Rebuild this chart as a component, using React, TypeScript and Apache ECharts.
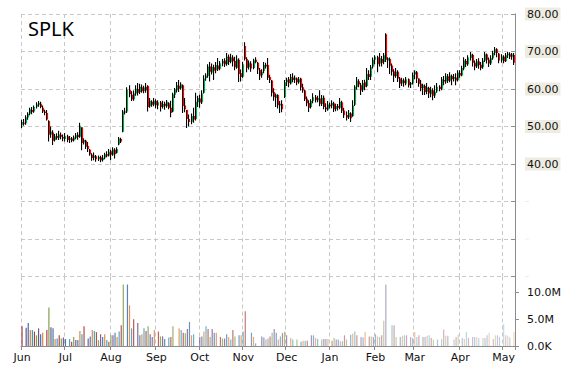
import React, { useEffect, useRef } from 'react';
import * as echarts from 'echarts';

const months = ['Jun', 'Jul', 'Aug', 'Sep', 'Oct', 'Nov', 'Dec', 'Jan', 'Feb', 'Mar', 'Apr', 'May'];
const tradingDays = [21, 22, 22, 21, 21, 21, 21, 22, 19, 22, 21, 6];
const ticker = 'SPLK';

// [open, close, low, high]
const ohlc: number[][] = [
  [50.5, 51.2, 49.6, 51.8], [51.0, 50.8, 50.2, 52.0], [50.9, 52.5, 50.5, 53.0], [52.4, 53.4, 51.8, 53.8],
  [53.5, 54.6, 53.0, 55.0], [54.4, 53.9, 53.3, 55.2], [54.0, 55.2, 53.7, 55.6], [55.3, 55.9, 54.8, 56.5],
  [55.8, 56.3, 55.3, 56.8], [56.1, 55.2, 54.9, 56.6], [55.0, 54.0, 53.6, 55.6], [54.0, 53.6, 53.0, 54.5],
  [53.6, 51.9, 51.6, 54.4], [51.5, 47.8, 46.0, 51.7], [47.9, 48.6, 47.0, 50.0], [48.4, 46.2, 45.1, 49.0],
  [46.4, 47.4, 46.0, 48.0], [47.5, 47.0, 46.5, 48.2], [47.0, 47.9, 46.4, 48.9], [47.8, 47.3, 46.6, 48.4],
  [47.2, 46.8, 46.1, 47.9],
  // Jul
  [46.7, 47.5, 46.0, 48.3], [47.4, 46.4, 45.8, 47.8], [46.5, 46.9, 45.6, 47.5], [46.8, 46.2, 45.8, 47.2],
  [46.3, 47.1, 46.0, 47.6], [47.0, 47.7, 46.6, 48.3], [47.8, 47.2, 46.5, 48.5], [47.3, 50.2, 47.0, 51.0],
  [49.8, 45.6, 43.7, 49.8], [45.8, 46.4, 45.2, 46.9], [46.2, 44.6, 44.0, 46.5], [44.8, 44.0, 43.2, 45.9],
  [43.8, 42.6, 42.2, 44.0], [42.5, 41.6, 40.9, 42.9], [41.7, 42.2, 41.0, 43.1], [42.1, 41.3, 40.6, 42.4],
  [41.3, 41.9, 40.8, 42.3], [41.8, 41.0, 40.5, 42.2], [41.1, 41.7, 40.7, 42.4], [41.7, 42.6, 41.3, 43.0],
  [42.6, 42.2, 41.8, 43.4], [42.3, 43.3, 42.0, 44.0],
  // Aug
  [43.4, 42.5, 41.0, 43.8], [42.5, 43.9, 42.2, 44.5], [43.8, 42.6, 41.5, 44.2], [43.0, 44.0, 42.8, 44.5],
  [45.2, 46.8, 45.0, 47.2], [46.7, 46.0, 45.6, 47.0], [48.6, 54.0, 48.5, 54.4], [54.0, 53.8, 53.2, 55.0],
  [54.0, 59.8, 53.6, 60.5], [59.8, 58.6, 57.8, 61.0], [58.5, 57.2, 56.8, 59.4], [57.3, 58.8, 56.9, 59.6],
  [58.8, 60.1, 58.2, 61.0], [60.0, 59.0, 58.3, 61.6], [59.2, 60.6, 58.7, 61.4], [60.5, 59.4, 59.0, 61.2],
  [59.5, 60.4, 58.9, 60.9], [60.6, 59.6, 59.0, 61.6], [60.8, 55.2, 54.0, 61.0], [55.4, 56.8, 55.0, 57.6],
  [56.6, 55.8, 55.3, 57.0],
  // Sep
  [55.9, 56.9, 55.4, 57.6], [56.8, 55.7, 54.9, 57.3], [55.6, 56.5, 54.6, 57.0], [56.4, 55.2, 54.0, 56.8],
  [55.3, 56.0, 54.8, 56.9], [56.1, 55.5, 54.5, 56.6], [55.4, 56.6, 55.0, 57.1], [56.2, 55.0, 54.6, 56.5],
  [55.0, 53.6, 52.5, 56.9], [54.0, 58.6, 53.8, 59.0], [58.5, 59.8, 57.6, 60.3], [59.7, 61.0, 59.1, 61.9],
  [60.9, 60.1, 59.2, 62.4], [60.2, 61.3, 59.8, 61.8], [61.0, 55.5, 53.6, 61.2], [55.6, 54.6, 53.8, 57.6],
  [54.5, 52.0, 49.6, 54.4], [52.0, 51.2, 50.0, 53.2], [51.3, 52.8, 50.6, 53.5], [52.8, 51.9, 51.0, 55.0],
  [52.0, 56.6, 51.6, 59.0],
  // Oct
  [56.5, 57.6, 55.2, 58.2], [57.5, 56.4, 55.0, 58.5], [56.5, 58.8, 56.0, 59.7], [59.0, 62.8, 58.8, 63.7],
  [62.9, 63.6, 62.2, 64.2], [63.5, 66.0, 63.0, 66.6], [66.0, 64.6, 62.0, 67.2], [64.4, 65.9, 63.9, 66.8],
  [65.8, 64.9, 62.4, 66.5], [65.0, 66.4, 64.2, 67.2], [66.3, 65.3, 64.8, 68.3], [65.4, 66.9, 65.0, 67.5],
  [66.8, 67.5, 66.1, 68.0], [67.6, 66.6, 65.9, 68.2], [66.7, 68.7, 66.2, 69.6], [68.6, 67.2, 66.4, 69.2],
  [67.3, 68.5, 66.9, 69.4], [68.4, 67.4, 66.0, 69.0], [67.5, 65.8, 65.0, 68.6], [65.7, 67.9, 65.4, 69.0],
  [67.8, 64.0, 61.9, 68.2], [64.2, 63.2, 62.0, 65.2],
  // Nov
  [63.3, 66.6, 63.0, 67.3], [71.5, 68.0, 67.6, 72.5], [68.0, 65.6, 64.5, 68.5], [65.8, 66.9, 65.2, 67.6],
  [66.8, 65.5, 64.6, 67.4], [65.6, 67.7, 65.3, 68.1], [67.8, 67.2, 66.9, 68.5], [67.0, 65.2, 64.0, 67.2],
  [65.1, 63.6, 62.4, 65.6], [63.7, 64.6, 63.0, 65.3], [64.8, 66.4, 64.2, 67.2], [66.5, 66.0, 65.5, 67.0],
  [66.4, 63.0, 62.4, 68.3], [63.2, 62.4, 61.6, 63.8], [62.3, 59.0, 58.0, 62.4], [59.2, 57.8, 56.9, 60.2],
  [57.6, 58.5, 55.2, 58.8], [58.4, 55.7, 54.8, 58.6], [55.6, 56.1, 53.6, 56.8], [56.0, 54.6, 53.8, 57.0],
  [57.8, 61.8, 57.6, 62.4],
  // Dec
  [61.8, 62.5, 60.8, 63.0], [62.6, 61.6, 60.5, 63.2], [61.5, 63.2, 61.2, 64.0], [63.1, 62.4, 61.8, 64.2],
  [62.5, 63.0, 61.6, 63.6], [62.8, 61.8, 61.0, 63.1], [61.8, 62.6, 61.4, 63.2], [62.8, 60.4, 59.6, 63.0],
  [60.5, 59.6, 59.0, 61.4], [59.6, 57.3, 56.8, 59.8], [57.4, 56.2, 55.4, 58.0], [56.3, 55.0, 53.9, 57.0],
  [55.2, 56.8, 54.8, 57.3], [56.8, 57.8, 56.2, 58.9], [57.8, 57.0, 56.4, 58.4], [57.0, 57.6, 56.5, 58.2],
  [57.5, 56.1, 55.4, 59.7], [56.0, 57.6, 55.5, 58.4], [57.7, 55.2, 54.6, 58.3], [55.1, 54.6, 53.9, 56.2],
  [54.5, 55.9, 54.2, 56.8],
  // Jan
  [55.8, 55.4, 54.8, 56.4], [55.6, 56.3, 54.9, 57.0], [56.2, 54.6, 53.9, 56.6], [54.7, 55.5, 54.1, 56.1],
  [55.5, 55.0, 54.3, 56.0], [55.0, 56.6, 54.6, 57.6], [56.5, 54.2, 53.6, 56.9], [54.3, 53.0, 52.3, 55.0],
  [53.1, 52.4, 51.6, 54.0], [52.5, 53.6, 52.0, 54.4], [53.5, 52.2, 51.2, 53.8], [52.8, 55.6, 52.6, 57.0],
  [55.8, 60.6, 55.5, 61.0], [60.6, 62.2, 59.8, 63.2], [62.1, 61.2, 60.5, 62.6], [61.0, 59.6, 58.4, 61.6],
  [59.8, 61.6, 59.2, 62.4], [61.8, 60.6, 59.7, 62.5], [60.8, 64.0, 60.5, 65.6], [64.0, 63.2, 62.4, 65.0],
  [63.3, 65.8, 62.4, 66.4], [66.0, 67.8, 65.5, 68.4],
  // Feb
  [67.8, 68.6, 66.6, 69.0], [68.5, 66.6, 64.5, 68.9], [66.8, 68.2, 66.0, 69.6], [68.0, 67.0, 66.0, 68.8],
  [67.2, 69.0, 66.6, 69.6], [74.6, 67.8, 67.2, 74.9], [67.6, 68.2, 65.6, 68.5], [68.0, 66.2, 64.0, 68.4],
  [66.3, 64.6, 63.6, 66.8], [64.7, 63.4, 61.9, 65.3], [63.5, 64.6, 63.0, 65.6], [64.6, 62.8, 61.9, 65.0],
  [62.8, 61.4, 60.3, 63.2], [61.5, 62.4, 60.8, 63.0], [62.3, 61.6, 60.6, 62.8], [61.5, 62.6, 61.0, 63.2],
  [62.6, 61.0, 60.4, 62.8], [61.2, 61.6, 60.3, 61.9], [61.5, 63.8, 61.2, 64.4],
  // Mar
  [63.9, 64.6, 62.6, 65.0], [64.5, 62.8, 61.6, 64.8], [62.8, 61.4, 60.6, 62.9], [61.4, 60.2, 59.4, 62.4],
  [60.2, 61.0, 58.4, 61.4], [60.8, 59.2, 58.4, 61.2], [59.3, 60.4, 58.6, 61.6], [60.3, 58.8, 57.6, 60.6],
  [58.6, 59.8, 57.8, 60.6], [59.7, 58.2, 57.0, 60.2], [58.3, 59.2, 57.6, 61.0], [59.4, 60.6, 59.0, 61.6],
  [60.6, 60.0, 59.4, 61.0], [60.1, 62.6, 59.7, 63.2], [62.4, 62.0, 61.0, 63.5], [62.0, 63.4, 61.4, 64.2],
  [63.4, 62.2, 61.6, 64.0], [62.2, 63.6, 61.8, 64.5], [63.5, 62.6, 61.0, 63.9], [62.7, 63.2, 62.0, 64.0],
  [63.1, 62.3, 61.0, 64.2], [62.4, 64.4, 62.0, 65.0],
  // Apr
  [64.3, 63.6, 63.0, 65.0], [63.6, 65.6, 63.4, 66.2], [65.5, 67.6, 65.0, 68.5], [67.5, 66.6, 65.9, 68.0],
  [66.6, 68.4, 66.2, 69.0], [68.3, 69.2, 67.6, 69.9], [69.1, 67.0, 66.0, 69.4], [67.0, 66.0, 65.0, 67.6],
  [66.1, 67.4, 65.6, 68.0], [67.4, 66.4, 65.4, 68.2], [66.5, 65.6, 65.0, 67.2], [65.8, 67.6, 65.4, 68.3],
  [67.6, 69.3, 67.2, 69.9], [69.2, 67.8, 66.8, 69.5], [67.8, 66.8, 65.9, 68.4], [66.8, 68.2, 66.4, 69.0],
  [68.2, 69.6, 67.8, 70.2], [69.6, 70.6, 69.0, 71.2], [70.6, 69.6, 68.5, 70.9], [69.4, 67.6, 66.9, 69.6],
  [67.6, 68.6, 67.0, 69.3],
  // May
  [68.6, 67.4, 66.9, 69.0], [67.5, 69.0, 67.2, 69.6], [69.0, 69.4, 68.3, 69.9], [69.3, 68.6, 68.0, 69.8],
  [68.6, 69.2, 67.8, 69.6], [69.1, 67.0, 66.4, 69.6],
];

// volume in millions ('-' = no visible bar)
const volumeM: (number | string)[] = [
  3.7, '-', 3.4, 4.3, 3.0, 3.0, 2.7, 2.0, 3.3, 2.2, 2.5, '-', 3.0, 7.2, 3.5, 3.3, 1.3, 1.4, 2.0, 1.4,
  1.6, 1.3, '-', 1.3, 0.8, 1.7, 1.1, 1.1, 2.8, 2.2, 3.7, '-', 1.4, 1.8, 3.0, 2.8, 2.6, 1.1, 2.2, 1.7,
  2.2, 1.1, 0.8, 2.0, 2.0, 2.5, 1.7, 2.7, 3.9, 11.5, '-', 11.5, 7.6, 3.3, 5.0, '-', 4.3, 2.0, 2.2, 3.3,
  2.8, 3.7, 2.2, 1.7, 3.0, '-', 2.7, 1.8, 1.8, 1.3, '-', 1.6, 1.7, 3.7, '-', '-', 3.3, 3.0, 2.5, 2.4,
  3.2, 4.5, 2.0, 2.2, '-', '-', 1.7, 1.8, 2.7, 3.7, 3.2, 1.7, 3.2, 2.5, 2.5, '-', 1.7, 1.4, 1.4, 2.2,
  1.7, 1.2, 3.0, 1.8, '-', 2.0, 2.0, 2.7, 6.5, '-', '-', 2.5, 1.7, 0.5, '-', '-', 1.8, 1.6, 1.2, 1.4,
  1.8, 2.5, 3.2, 2.5, 1.2, 1.8, 2.4, 2.7, 2.0, '-', 1.5, 1.2, '-', 1.2, '-', 0.8, 1.0, 1.0, 1.0, '-',
  2.0, 2.0, 1.5, 1.3, '-', 1.2, 1.3, 1.3, 1.3, '-', 1.0, 1.5, 1.2, 1.2, 0.9, 0.9, 2.0, 1.2, '-', 2.1,
  2.3, 2.7, 2.0, '-', 1.7, 1.6, 2.6, '-', 1.8, 1.8, 1.7, 2.2, 1.8, 1.7, 2.0, 4.7, 11.5, '-', '-', 3.9,
  3.9, 1.7, '-', 1.7, 1.9, 2.0, 2.0, '-', 1.7, 1.5, 2.6, 1.7, 2.0, '-', 1.7, 1.7, 1.9, 2.0, 1.5, 1.2,
  '-', 1.2, '-', 1.3, 3.1, 1.9, 1.9, '-', '-', 1.2, 1.7, 2.1, '-', 1.5, 1.3, 2.6, 1.5, '-', 1.7, 1.7,
  1.7, 1.5, '-', 1.5, 1.5, 2.0, 2.5, '-', 1.3, 2.0, 2.0, 1.7, '-', 4.1, 2.0, 1.9, 1.6, '-', 2.6,
];

const volColors = ['#A5403D', '#7F9A48', '#6A508C', '#3F6FA8', '#D97F3A', '#3A9AB5'];

function rgba(hex: string, a: number) {
  const n = parseInt(hex.slice(1), 16);
  return `rgba(${(n >> 16) & 255},${(n >> 8) & 255},${n & 255},${a.toFixed(3)})`;
}

const categories: string[] = months.flatMap((m, k) =>
  Array.from({ length: tradingDays[k] }, (_, d) => `${m} ${d + 1}`)
);

const isMonthStart = (_i: number, v: string) => String(v).split(' ')[1] === '1';

export default function App() {
  const ref = useRef<HTMLDivElement>(null);
  useEffect(() => {
    if (!ref.current) return;
    const chart = echarts.init(ref.current, undefined, { renderer: 'svg' });
    const grid = '#c8c8c8';
    const axisGray = '#8c8c8c';
    const labelFont = { fontFamily: 'DejaVu Sans', fontSize: 11, color: '#111' };
    const last = categories.length - 1;
    chart.setOption({
      animation: false,
      backgroundColor: '#ffffff',
      title: {
        text: ticker,
        left: 28,
        top: 18,
        padding: 0,
        textStyle: { fontFamily: 'Noto Sans', fontSize: 20, fontWeight: 'normal', color: '#000' },
      },
      grid: [
        { left: 21, right: 55, top: 14, height: 262.5 },
        { left: 21, right: 55, top: 276.5, height: 69.5 },
      ],
      xAxis: [
        {
          type: 'category', gridIndex: 0, data: categories, boundaryGap: true,
          axisLine: { show: false }, axisTick: { show: false }, axisLabel: { show: false },
          splitLine: { show: true, interval: isMonthStart, lineStyle: { color: grid, type: [4, 3], width: 1 } },
        },
        {
          type: 'category', gridIndex: 1, data: categories, boundaryGap: true,
          axisLine: { show: true, lineStyle: { color: axisGray, width: 1 } },
          axisTick: { show: true, interval: isMonthStart, length: 4, lineStyle: { color: axisGray } },
          axisLabel: {
            show: true, interval: isMonthStart, margin: 6, ...labelFont,
            formatter: (v: string) => v.split(' ')[0],
          },
          splitLine: { show: true, interval: isMonthStart, lineStyle: { color: grid, type: [4, 3], width: 1 } },
        },
      ],
      yAxis: [
        {
          type: 'value', gridIndex: 0, position: 'right', min: 10, max: 80, interval: 10,
          axisLine: { show: true, lineStyle: { color: axisGray, width: 1 } },
          axisTick: { show: true, inside: true, length: 4, lineStyle: { color: axisGray } },
          axisLabel: {
            ...labelFont, margin: 10, backgroundColor: '#EEECE1', padding: [1, 2, 0, 2], lineHeight: 12,
            formatter: (v: number) => (v >= 40 ? v.toFixed(2) : ''),
          },
          splitLine: { show: true, lineStyle: { color: grid, type: [4, 3], width: 1 } },
        },
        {
          type: 'value', gridIndex: 1, position: 'right', min: 0, max: 13e6, interval: 5e6,
          axisLine: { show: true, lineStyle: { color: axisGray, width: 1 } },
          axisTick: { show: true, length: 4, lineStyle: { color: axisGray } },
          axisLabel: {
            ...labelFont, margin: 12, showMaxLabel: false,
            formatter: (v: number) => (v > 10.5e6 ? '' : v === 0 ? '0.0K' : (v / 1e6).toFixed(1) + 'M'),
          },
          splitLine: { show: false },
        },
      ],
      series: [
        {
          type: 'custom',
          xAxisIndex: 0,
          yAxisIndex: 0,
          data: ohlc.map((d, i) => [i, d[0], d[1], d[2], d[3]]),
          encode: { x: 0, y: [1, 2, 3, 4] },
          renderItem: (_params: any, api: any) => {
            const i = api.value(0);
            const o = api.value(1), c = api.value(2), l = api.value(3), h = api.value(4);
            const pH = api.coord([i, h]);
            const pL = api.coord([i, l]);
            const pO = api.coord([i, o]);
            const pC = api.coord([i, c]);
            const x = Math.round(pH[0]);
            const top = Math.min(pO[1], pC[1]);
            const bot = Math.max(pO[1], pC[1]);
            return {
              type: 'group',
              children: [
                { type: 'rect', shape: { x: x - 1, y: pH[1], width: 1.1, height: Math.max(1, pL[1] - pH[1]) }, style: { fill: '#000' } },
                { type: 'rect', shape: { x: x, y: top, width: 1.1, height: Math.max(1, bot - top) }, style: { fill: c >= o ? '#00B050' : '#FF0000' } },
              ],
            };
          },
        },
        {
          type: 'bar',
          xAxisIndex: 1,
          yAxisIndex: 1,
          barWidth: 1.2,
          data: volumeM.map((v) => (typeof v === 'number' ? v * 1e6 : '-')),
          itemStyle: {
            color: (p: any) => rgba(volColors[p.dataIndex % volColors.length], 1 - 0.68 * p.dataIndex / last),
          },
        },
      ],
    });
    return () => chart.dispose();
  }, []);
  return (
    <div
      ref={ref}
      style={{ position: 'fixed', left: 0, top: 0, width: 570, height: 370, background: '#fff' }}
    />
  );
}
